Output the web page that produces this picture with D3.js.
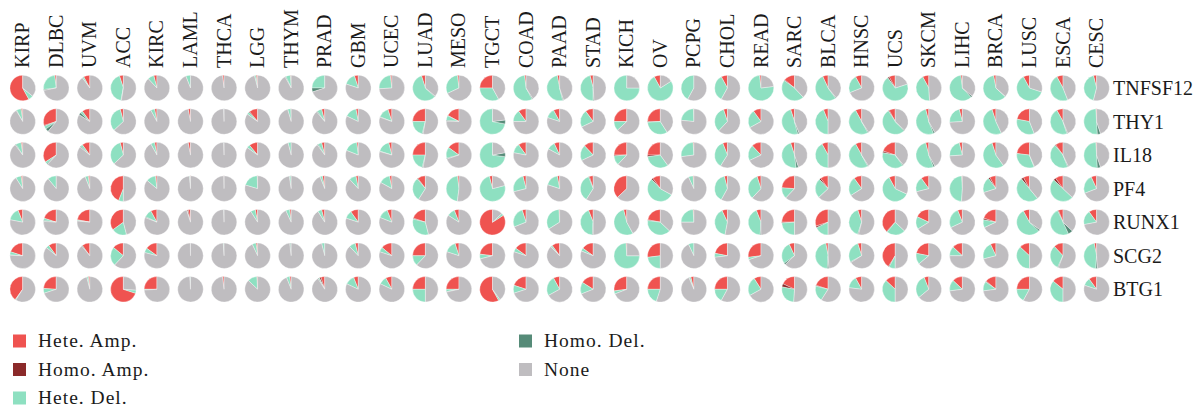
<!DOCTYPE html>
<html>
<head>
<meta charset="utf-8">
<script src="https://cdn.jsdelivr.net/npm/d3@7"></script>
<style>
  body { margin: 0; background: #fff; }
  text { font-family: "Liberation Serif", "Times New Roman", serif; fill: #1b1b1b; }
</style>
</head>
<body>
<svg id="chart" width="1198" height="408"></svg>
<script>
// Cancer types (columns) and genes (rows)
const cancers = ["KIRP","DLBC","UVM","ACC","KIRC","LAML","THCA","LGG","THYM","PRAD","GBM","UCEC","LUAD","MESO","TGCT","COAD","PAAD","STAD","KICH","OV","PCPG","CHOL","READ","SARC","BLCA","HNSC","UCS","SKCM","LIHC","BRCA","LUSC","ESCA","CESC"];
const genes = ["TNFSF12","THY1","IL18","PF4","RUNX1","SCG2","BTG1"];
const cnvTypes = ["Hete. Amp.","Homo. Amp.","Hete. Del.","Homo. Del.","None"];
const cnvColors = ["#ef5350","#8b2a2a","#8ee0c1","#568b78","#bfbdc0"];

// Percent of samples per CNV class; one row per gene, one entry per cancer type
const heteAmp = [
  [58,2,8,5,4,0,2,2,1,0,5,2,5,2,25,2,3,4,0,8,0,8,2,14,7,8,8,8,2,3,8,8,4],
  [2,30,10,4,3,3,0,11,0.5,4,3,5,25,17,0,10,8,10,25,25,0.5,5,10,5,6,8,8,4,4,5,22,8,1],
  [2,34,10,4,3,3,0,11,0,4,2,4,25,15,0,10,7,12,25,25,1,6,12,5,8,8,20,4,4,5,23,10,1],
  [2,0,2,44,2,0.5,0.3,0.5,0.5,3,3,3,10,2,4,4,3,5,37,10,1,4,5,24,10,10,8,10,1,8,8,10,7],
  [6,20,22,35,8,3,0,3,2,4,10,6,20,6,84,5,1,6,4,22,1,7,6,25,30,5,38,18,6,20,8,6,10],
  [20,10,10,14,15,0,0,2,0,0,4,14,25,5,23,15,10,15,1,27,0,22,27,7,3,5,41,22,13,7,13,12,3],
  [40,24,2,70,25,0,2,1,2,5,6,8,25,25,58,20,8,16,27,25,4,25,9,18,20,8,13,6,13,14,25,14,10]
];
const homoAmp = [
  [0,0,0,0,0,0,0,0,0,0,0,0,0,0,0,0,0,0,0,0,0,0,0,1,0,0,2,0,0,0,0,0,0],
  [0,1,0,0,0,0,0,1,0,0,0,0,0,0.5,0,0,0,0,0,1,0,0,0,0,0,0,1,0,0,0,0,0,0],
  [0,0,0,0,0,0,0,0,0,0,0,0,0,0,0,0,0,0,1,2,0,0,0,0,0,0,2,0,0,0,0,1,0],
  [0,0,0,0,0,0,0,0,0,0,0,0,1,0,0,0,0,1,0,2,0,0,0,0,2,0,0,0,0,2,3,3,0],
  [0,0,0.5,0,0,1.5,0,0,0,0,0,0,1,0,0,0,0,0,0,1,0,0,0,1,2,0,1,0,0,2,0,1,0],
  [0,0,0,0,0,0,0,0,0,0,0,0,0,0,0,0,0,0,0,0,0,0,0,0,0,0,1,0,0,0,0,0,0],
  [0,0,0,0,0,0,0,0,0,2,0,0,0,0,0,0,0,0,0,0,0,0,0,4,1,0,0,0,0,1,0,0,0]
];
const heteDel = [
  [6,25,2,42,8,6,0,2,6,25,15,24,58,30,33,56,51,46,75,76,42,34,75,47,53,23,70,43,60,60,62,48,42],
  [6,4,3,33,5,0,0.5,3,4,6,15,14,21,6,72,15,12,22,12,33,23,33,23,49,44,50,53,52,22,52,34,47,50],
  [7,3,3,33,5,0,0.5,4,4,5,17,16,21,14,73,12,10,20,12,33,26,35,20,47,42,50,38,52,22,55,33,45,50],
  [7,11,4,6,12,1,0,20,2,3,9,14,30,46,75,25,17,35,0,55,6,38,33,14,25,24,60,19,48,20,50,50,24],
  [16,3,1,19,10,0.5,0.5,6,5,5,10,13,33,10,3,26,33,43,54,40,24,40,43,24,18,40,24,16,26,10,55,50,18],
  [4,4,0,24,6,0.3,1,5,1,4,8,6,13,15,6,5,2,4,74,23,7,5,3,28,46,28,8,14,12,22,37,31,46],
  [1,6,2,4,1,1,0,12,4,1,12,10,25,3,2,10,25,15,4,20,2,17,24,27,20,15,37,30,14,12,17,36,10]
];
const homoDel = [
  [0,1,0,0.5,0,0,0,0,1,5,0,0,1,0,0,1,1,1,0,0,0,0,0,0,1,0,0,0,2,0.5,0,0,0],
  [0.5,4,3,0,0,0,0,0,0,1,0,0.5,1,1,5,0,0,0,0,0,0,0,0,2,0,1,1,2,0,0,0,1,4],
  [1,1,1,0,0,0,0,0,0,1,0,0.5,1,1,5,0,0,0,0,0,0,0,0,3,0,1,1,2,0,0,0.5,1,4],
  [0,0,0,0,0,0,0,0,0,0,0,0,0,0,0,0,0,0,0,0,0,0,0,0,0,0,0,0,0,0,0,0,0],
  [0,1,0,0,1,0,0,0,0,0,0,0,0,0,0,0,0,1,0,0,0,0,1,0,0,1,0,0,0,0,2,6,0],
  [0.5,0,1,0,0,0,0,0,1,0,0,0,0,0,0,0,0.5,0,0,0,0,0,0,2,2,1,0,0,0,0,0,1,2],
  [0,0,0,0,0,0,0,0,0,1,0,0,0,0.5,0,0,0,0,0,0,0.5,0,0,0,0,0,0,0,0,0,0,0,0]
];

const svg = d3.select("#chart");

const x = d3.scalePoint().domain(cancers).range([22.7, 1096.6]);
const y = d3.scalePoint().domain(genes).range([88, 289.3]);
const color = d3.scaleOrdinal().domain(cnvTypes).range(cnvColors);

const radius = 12.8;
// slices run counter-clockwise from 12 o'clock
const pie = d3.pie().sort(null).startAngle(0).endAngle(-2 * Math.PI).value(d => d.value);
const arc = d3.arc().innerRadius(0).outerRadius(radius);

const cells = [];
genes.forEach((g, gi) => {
  cancers.forEach((c, ci) => {
    const parts = [heteAmp[gi][ci], homoAmp[gi][ci], heteDel[gi][ci], homoDel[gi][ci]];
    const none = Math.max(0, 100 - d3.sum(parts));
    const vals = parts.concat([none]).map((v, k) => ({ type: cnvTypes[k], value: v }));
    cells.push({ gene: g, cancer: c, vals });
  });
});

const cellG = svg.append("g").selectAll("g.cell")
  .data(cells)
  .join("g")
  .attr("class", "cell")
  .attr("transform", d => `translate(${x(d.cancer)},${y(d.gene)})`);

cellG.selectAll("path")
  .data(d => pie(d.vals).filter(s => s.data.value > 0))
  .join("path")
  .attr("d", arc)
  .attr("fill", s => color(s.data.type))
  .attr("stroke", "#ffffff")
  .attr("stroke-width", 0.35);

// column labels (rotated)
svg.append("g").selectAll("text")
  .data(cancers)
  .join("text")
  .attr("transform", d => `translate(${x(d) + 6.5},68) rotate(-90)`)
  .attr("font-size", 20)
  .text(d => d);

// row labels
svg.append("g").selectAll("text")
  .data(genes)
  .join("text")
  .attr("x", 1113)
  .attr("y", d => y(d))
  .attr("dy", "0.35em")
  .attr("font-size", 20)
  .text(d => d);

// legend
const legendPos = [
  { col: 0, row: 0 }, { col: 0, row: 1 }, { col: 0, row: 2 },
  { col: 1, row: 0 }, { col: 1, row: 1 }
];
const legend = svg.append("g").selectAll("g")
  .data(cnvTypes)
  .join("g")
  .attr("transform", (d, i) => `translate(${legendPos[i].col === 0 ? 13 : 519},${341 + legendPos[i].row * 28.5})`);
legend.append("rect")
  .attr("x", 0).attr("y", -6.5).attr("width", 13).attr("height", 13)
  .attr("fill", d => color(d));
legend.append("text")
  .attr("x", 25).attr("dy", "0.33em")
  .attr("font-size", 19.5)
  .attr("letter-spacing", 1)
  .text(d => d);
</script>
</body>
</html>
